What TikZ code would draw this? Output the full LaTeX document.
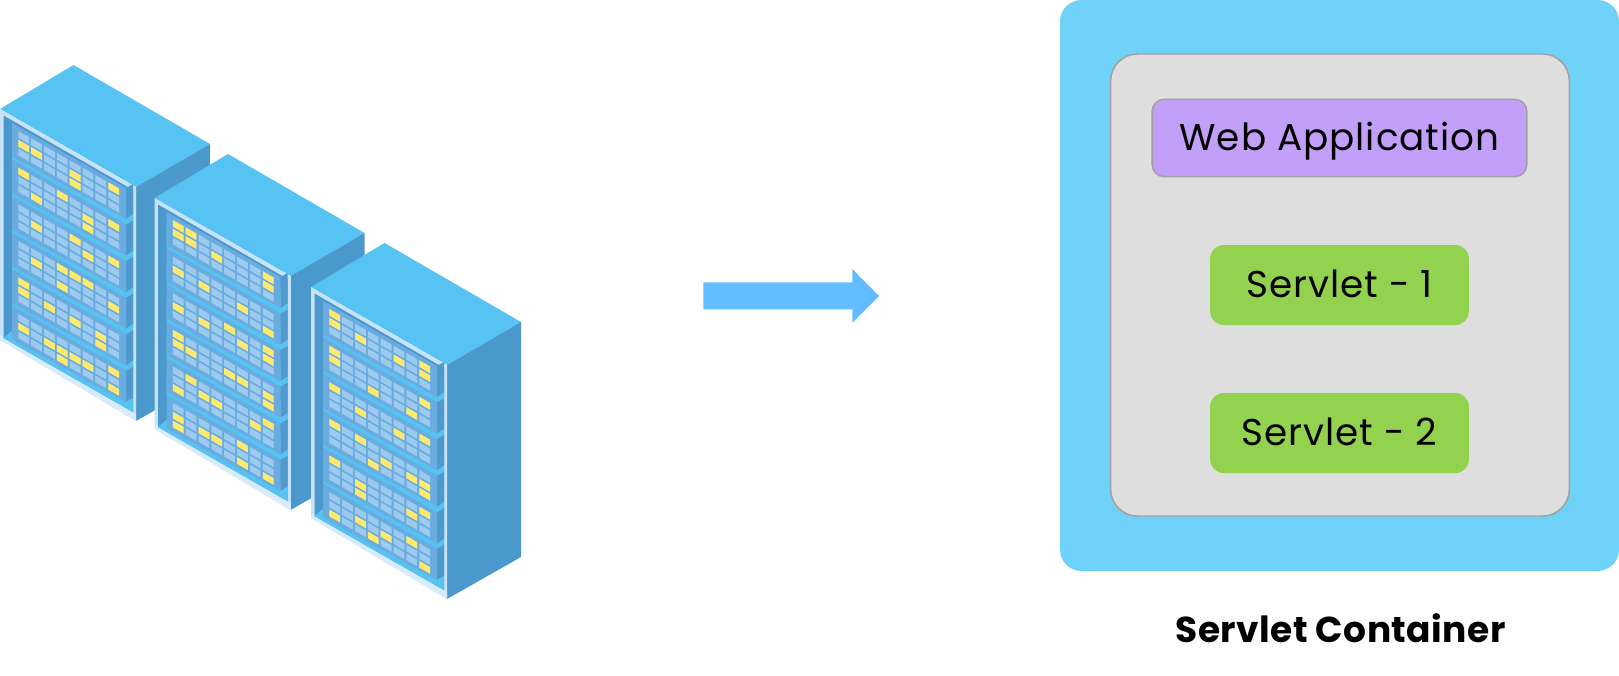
\documentclass[tikz,border=0pt]{standalone}
\usepackage{fontspec}
\setmainfont{Poppins}
\newfontfamily\boxfont[LetterSpace=2.6]{Poppins}
\newfontfamily\titlefont[LetterSpace=1.2]{Poppins}
\definecolor{rtop}{HTML}{56C3F3}
\definecolor{rside}{HTML}{4B98CD}
\definecolor{rframe}{HTML}{C8E3F8}
\definecolor{rbase}{HTML}{D8EBFB}
\definecolor{rpanel}{HTML}{6AABE0}
\definecolor{rcell}{HTML}{9CCBEF}
\definecolor{rlit}{HTML}{FFE96B}
\definecolor{flow}{HTML}{62BCFF}
\definecolor{outerc}{HTML}{70D2F9}
\definecolor{innerc}{HTML}{DEDEDE}
\definecolor{edgec}{HTML}{A0A0A0}
\definecolor{webc}{HTML}{C29FF9}
\definecolor{svc}{HTML}{93D24F}
\tikzset{
  cellblue/.style={fill=rcell},
  celllit/.style={fill=rlit},
  labelbox/.style={inner sep=0pt,text height=19.5pt,text depth=1.5pt,font=\boxfont\fontsize{28}{30}\selectfont,text=black,align=center},
  webbox/.style={labelbox,fill=webc,draw=edgec,line width=1.1pt,rounded corners=9pt,minimum width=281pt,minimum height=58pt},
  svbox/.style={labelbox,fill=svc,rounded corners=10pt,minimum width=194pt,minimum height=60pt},
}
\newcommand{\rkcell}[4]{\fill[#4] ({329.3+(#2-1)*12.85},{309+(#1-1)*36.6+(#2-1)*7.33+(#3-1)*8.8}) -- ++(10.8,6.2) -- ++(0,6.6) -- ++(-10.8,-6.2) -- cycle;}
\newcommand{\rkrack}[8]{%
 \begin{scope}[shift={(-#1,-#2)}]
  \fill[rtop] (311,287) -- (384.5,243) -- (521,322) -- (447,365) -- cycle;
  \fill[rside] (447,365) -- (521,322) -- (521,557) -- (447,599) -- cycle;
  \fill[rframe] (311,287) -- (447,365) -- (447,599) -- (311,518) -- cycle;
  \fill[rbase] (311,513) -- (447,592) -- (447,599) -- (311,518) -- cycle;
  \fill[rside] (314.5,293.5) -- (444,368) -- (444,590) -- (314.5,516) -- cycle;
  \fill[rtop] (314.5,516) -- (324,508) -- (444,577) -- (444,590) -- cycle;
  \foreach \k in {2,...,6}{
   \pgfmathsetmacro{\yk}{301+(\k-1)*36.6}
   \fill[rtop] (323,\yk) -- (437,\yk+65) -- (444,\yk+61) -- (444,\yk+46) -- (323,\yk-25) -- cycle;
  }
  \foreach \k in {1,...,6}{
   \pgfmathsetmacro{\yk}{301+(\k-1)*36.6}
   \fill[rside!92!rpanel] (437,\yk+65) -- (444,\yk+61) -- (444,\yk+91) -- (437,\yk+96) -- cycle;
   \fill[rpanel] (323,\yk) -- (437,\yk+65) -- (437,\yk+96) -- (323,\yk+33.5) -- cycle;
   \foreach \c in {1,...,8}{\foreach \r in {1,2,3}{\rkcell{\k}{\c}{\r}{cellblue}}}
  }
  \foreach \c/\r in {#3}{\rkcell{1}{\c}{\r}{celllit}}
  \foreach \c/\r in {#4}{\rkcell{2}{\c}{\r}{celllit}}
  \foreach \c/\r in {#5}{\rkcell{3}{\c}{\r}{celllit}}
  \foreach \c/\r in {#6}{\rkcell{4}{\c}{\r}{celllit}}
  \foreach \c/\r in {#7}{\rkcell{5}{\c}{\r}{celllit}}
  \foreach \c/\r in {#8}{\rkcell{6}{\c}{\r}{celllit}}
 \end{scope}}
\begin{document}
\begin{tikzpicture}[x=0.75pt,y=-0.75pt]
\useasboundingbox (0,0) rectangle (1619,675);
\rkrack{311}{178}{1/2,2/2,5/2,5/3,8/1}{1/1,2/3,4/1,6/2,6/3,8/1}{2/2,5/1,6/2,8/1}{2/2,4/1,4/3,5/1,6/1,8/2}{1/1,1/2,3/2,5/2,7/2,7/3}{1/2,3/2,4/2,4/3,5/2,6/2,8/1,8/3}
\rkrack{156.5}{89}{1/1,1/2,2/1,2/2,4/2,8/1,8/2}{1/2,3/2,6/2,8/3}{1/2,3/2,5/1,6/2,8/1,8/2}{1/1,1/2,2/2,5/2,6/2,8/2,8/3}{1/3,2/1,3/2,4/2,7/2,8/1}{1/2,1/3,3/2,4/2,6/1,6/3,8/3}
\rkrack{0}{0}{1/1,1/2,3/2,6/2,8/1,8/2}{1/1,1/2,4/3,7/3,8/1}{1/1,3/2,6/2,8/1}{1/1,3/1,4/3,5/2,7/2,8/2,8/3}{1/1,3/2,3/3,7/2,8/1}{1/3,3/2,4/3,5/2,7/1,8/3}
% arrow
\fill[flow] (703.3,282.3) -- (852.3,282.3) -- (852.3,269) -- (879,296) -- (852.3,322.7) -- (852.3,309.3) -- (703.3,309.3) -- cycle;
% container
\fill[outerc,rounded corners=16pt] (1060,0) rectangle (1619,571);
\draw[fill=innerc,draw=edgec,line width=1.1pt,rounded corners=20pt] (1110.7,54) rectangle (1569.3,516);
\node[webbox] (web) at (1339.5,138) {Web Application};
\node[svbox] (s1) at (1339.5,285) {Servlet - 1};
\node[svbox] (s2) at (1339.5,433) {Servlet - 2};
\node[inner sep=0pt,text height=20pt,text depth=0pt,font=\titlefont\bfseries\fontsize{27}{30}\selectfont] (title) at (1340.5,629.5) {Servlet Container};
\end{tikzpicture}
\end{document}
